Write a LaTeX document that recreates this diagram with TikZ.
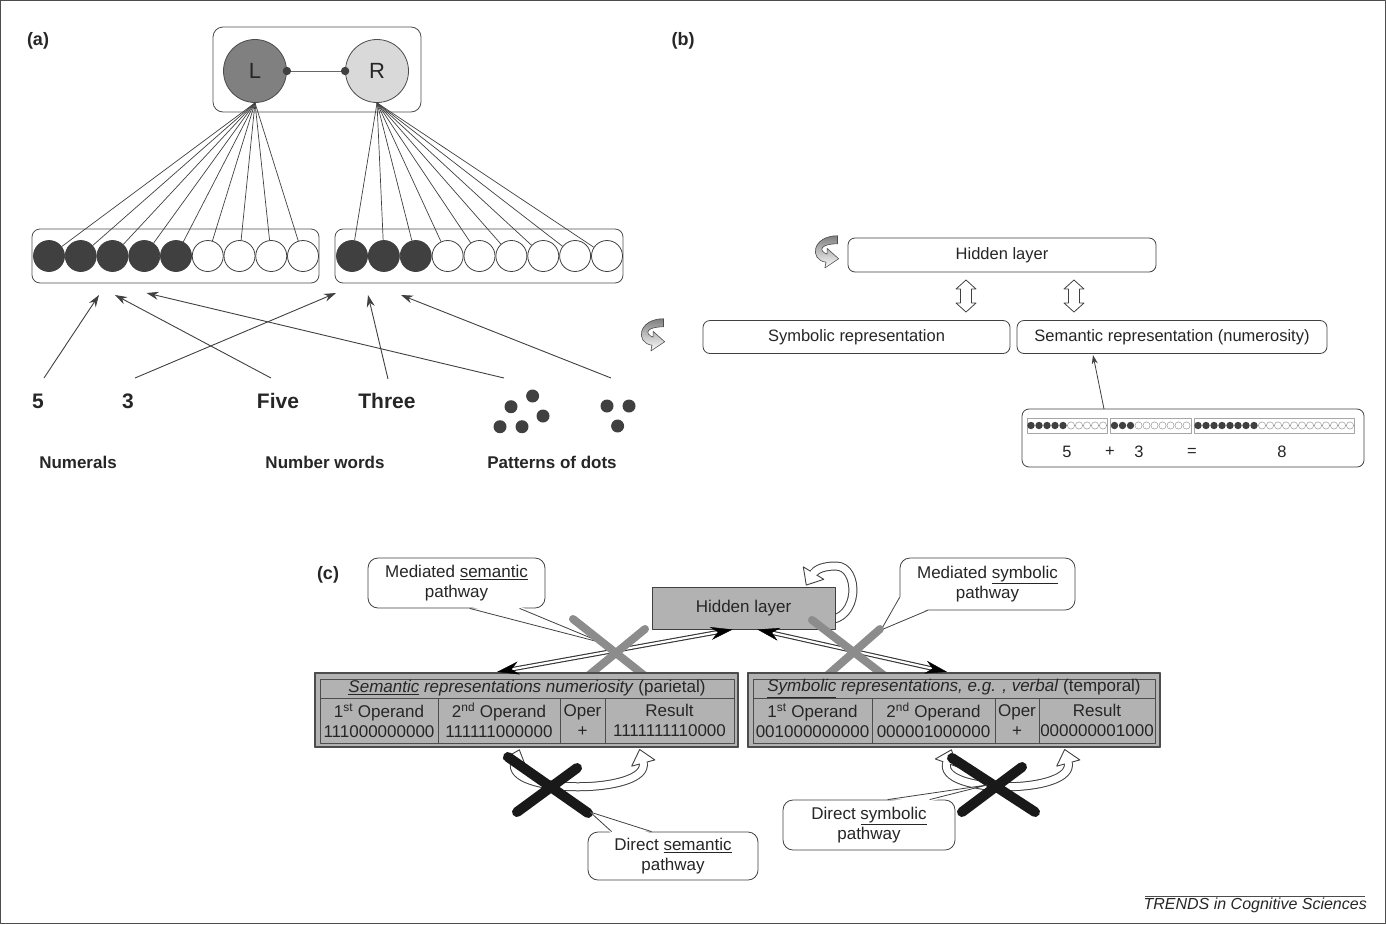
\documentclass[tikz,border=0pt]{standalone}
\usepackage{fontspec}
\setmainfont{Liberation Sans}
\usetikzlibrary{arrows.meta,decorations.markings,calc}

% open arrow heads for the banded (hollow) arrows
\newcommand\hhead{\draw[black!75, line width=0.9pt, fill=white] (-1,-12) -- (13,0) -- (-1,12) -- cycle; \fill[white] (-2.5,-3.4) rectangle (1,3.4);}
\newcommand\hheadback{\draw[black!75, line width=0.9pt, fill=white] (1,-12) -- (-13,0) -- (1,12) -- cycle; \fill[white] (2.5,-3.4) rectangle (-1,3.4);}
% banded arrow: dark outer stroke, white core, open heads
\newcommand\hollowpath[2]{\draw[black!75, line width=9pt] #2; \draw[white, line width=7pt, #1] #2;}
% speech-bubble tail: base points #1,#3, tip #2, #4 = shift into the bubble
\newcommand\calloutTail[4]{\fill[white] ($(#1)+(#4)$) -- (#2) -- ($(#3)+(#4)$) -- cycle; \draw[black!75, line width=0.8pt] (#1) -- (#2) -- (#3);}

\tikzset{
  paneltag/.style={font=\bfseries\fontsize{18}{21}\selectfont, inner sep=0pt, text=black!85},
  bigtxt/.style={font=\bfseries\fontsize{21}{25}\selectfont, inner sep=0pt, text=black!85},
  grouptxt/.style={font=\bfseries\fontsize{17}{20}\selectfont, inner sep=0pt, text=black!85},
  frameA/.style={draw=black!70, line width=0.8pt, rounded corners=8pt, inner sep=0pt},
  hemi/.style={circle, draw=black!70, line width=0.8pt, minimum size=63pt, inner sep=0pt, font=\fontsize{22}{26}\selectfont, text=black!85},
  unit/.style={circle, minimum size=31pt, inner sep=0pt, draw=black!75, line width=0.8pt},
  unitOn/.style={unit, fill=black!75},
  unitOff/.style={unit, fill=white},
  fan/.style={draw=black!75, line width=0.7pt},
  feed/.style={draw=black!75, line width=0.9pt, -{Stealth[length=12pt,width=8pt]}},
  rbox/.style={draw=black!75, rounded corners=7pt, line width=0.8pt, inner sep=0pt, fill=white, text=black!85, font=\fontsize{16.5}{19}\selectfont},
  bartxt/.style={font=\fontsize{16.5}{19}\selectfont, inner sep=0pt, text=black!85},
  dotOn/.style={fill=black!75},
  dotOff/.style={draw=black!40, fill=white, line width=0.5pt},
  bubble/.style={draw=black!75, fill=white, rounded corners=10pt, line width=0.8pt, align=center, inner sep=0pt, font=\fontsize{17}{20}\selectfont, text=black!85},
  grayhid/.style={draw=black!75, fill=black!30, line width=1pt, inner sep=0pt, font=\fontsize{17}{20}\selectfont, text=black!85},
  tabframe/.style={draw=black!70, fill=black!30, line width=2.2pt, inner sep=0pt},
  cellbox/.style={draw=black!70, line width=0.9pt, inner sep=0pt, align=center, font=\fontsize{17}{20}\selectfont, text=black!85},
  dblline/.style={draw=black!80, double=white, double distance=2.2pt, line width=1.1pt},
  dbltips/.style={color=black!80, decorate, decoration={markings,
      mark=at position 0 with {\arrowreversed{Stealth[length=22pt,width=13pt]}},
      mark=at position 1 with {\arrow{Stealth[length=22pt,width=13pt]}}}},
  headboth/.style={postaction={decorate, decoration={markings,
      mark=at position 0.0005 with {\hheadback}, mark=at position 0.9995 with {\hhead}}}},
  headend/.style={postaction={decorate, decoration={markings,
      mark=at position 0.9995 with {\hhead}}}},
  cross/.style={line width=8pt, draw=black!45, line cap=round},
  blackcross/.style={line width=10pt, draw=black!90, line cap=round},
  curl/.pic={\draw[black!70, line width=0.6pt, top color=black!50, bottom color=white, scale=1.15]
      (10,-15) .. controls (-12,-15) and (-15,6) .. (0,8) -- (-1,13) -- (11,5) -- (1,-4) -- (1,1)
      .. controls (-7,-2) and (-5,-8) .. (10,-8) -- cycle;},
  updown/.pic={\draw[black!75, line width=0.8pt, fill=white] (0,-16) -- (10,-7) -- (5.5,-7) -- (5.5,7) -- (10,7)
      -- (0,16) -- (-10,7) -- (-5.5,7) -- (-5.5,-7) -- (-10,-7) -- cycle;}
}

\begin{document}
\begin{tikzpicture}[x=1pt, y=-1pt, line join=round]
\useasboundingbox (0,0) rectangle (1386,924);
\draw[black!70, line width=0.8pt] (0.4,0.4) rectangle (1385.6,923.6);

%% ---------------- (a) two hemispheres and their number lines
\node[paneltag] (tagA) at (38,41) {(a)};
\node[frameA, minimum width=208pt, minimum height=85pt, rounded corners=10pt] (pair) at (317,69.5) {};
\node[hemi, fill=black!50] (L) at (255,71) {L};
\node[hemi, fill=black!15] (R) at (377,71) {R};
\draw[black!60, line width=0.9pt] (L.east) -- (R.west);
\fill[black!75] (L.east) circle (4.2pt) (R.west) circle (4.2pt);

\node[frameA, minimum width=287pt, minimum height=54pt] (bankL) at (175.5,256) {};
\node[frameA, minimum width=288pt, minimum height=54pt] (bankR) at (479,256) {};
\foreach \i in {0,...,4} \node[unitOn] (a\i) at ({49+31.75*\i},256) {};
\foreach \i in {5,...,8} \node[unitOff] (a\i) at ({49+31.75*\i},256) {};
\foreach \i in {0,1,2} \node[unitOn] (b\i) at ({352+31.875*\i},256) {};
\foreach \i in {3,...,8} \node[unitOff] (b\i) at ({352+31.875*\i},256) {};
\foreach \i in {0,...,8} {\draw[fan] (L.south) -- (a\i); \draw[fan] (R.south) -- (b\i);}

\node[bigtxt] (num5) at (38,401) {5};
\node[bigtxt] (num3) at (128,401) {3};
\node[bigtxt] (wFive) at (278,401) {Five};
\node[bigtxt] (wThree) at (387,401) {Three};
\foreach \p in {(532.6,396),(511,406.7),(543,416),(500,426.7),(522,426.7),(607,406),(629,406),(617.6,426)}
  \fill[black!75] \p circle (6.5pt);

\coordinate (t5) at (44,378);   \coordinate (h5) at (99,295);
\coordinate (t3) at (135,378);  \coordinate (h3) at (336,293);
\coordinate (tF) at (271,378);  \coordinate (hF) at (115,295);
\coordinate (tT) at (388,379);  \coordinate (hT) at (368,295);
\coordinate (tD5) at (504,378); \coordinate (hD5) at (146.5,293);
\coordinate (tD3) at (611,378); \coordinate (hD3) at (401,295);
\draw[feed] (t5) -- (h5);
\draw[feed] (t3) -- (h3);
\draw[feed] (tF) -- (hF);
\draw[feed] (tT) -- (hT);
\draw[feed] (tD5) -- (hD5);
\draw[feed] (tD3) -- (hD3);

\node[grouptxt] (gNum) at (78,462) {Numerals};
\node[grouptxt] (gWord) at (325,462) {Number words};
\node[grouptxt] (gDots) at (552,462) {Patterns of dots};

%% ---------------- (b) hidden layer model
\node[paneltag] (tagB) at (683,41) {(b)};
\node[rbox, minimum width=308pt, minimum height=34pt] (hid) at (1002,255) {Hidden layer};
\node[rbox, minimum width=307pt, minimum height=33pt] (sym) at (856.5,337) {Symbolic representation};
\node[rbox, minimum width=310pt, minimum height=33pt] (sem) at (1172,337) {Semantic representation (numerosity)};
\pic at (826,253) {curl};
\pic at (652,336) {curl};
\pic at (966,296) {updown};
\pic at (1074,296) {updown};

\node[rbox, minimum width=342pt, minimum height=58pt] (bar) at (1193,438) {};
\draw[black!35, line width=0.8pt, fill=white] (1027,418) rectangle (1107,433);
\draw[black!35, line width=0.8pt, fill=white] (1110,418) rectangle (1191,433);
\draw[black!35, line width=0.8pt, fill=white] (1194,418) rectangle (1354,433);
\foreach \k in {0,...,4} \fill[dotOn] ({1031+8*\k},425.5) circle (3.7pt);
\foreach \k in {5,...,9} \draw[dotOff] ({1031+8*\k},425.5) circle (3.6pt);
\foreach \k in {0,1,2} \fill[dotOn] ({1114.5+8*\k},425.5) circle (3.7pt);
\foreach \k in {3,...,9} \draw[dotOff] ({1114.5+8*\k},425.5) circle (3.6pt);
\foreach \k in {0,...,7} \fill[dotOn] ({1198+8*\k},425.5) circle (3.7pt);
\foreach \k in {8,...,19} \draw[dotOff] ({1198+8*\k},425.5) circle (3.6pt);
\node[bartxt] (e5) at (1067,452) {5};
\node[bartxt] (ePlus) at (1110,452) {+};
\node[bartxt] (e3) at (1139,452) {3};
\node[bartxt] (eEq) at (1192,452) {=};
\node[bartxt] (e8) at (1282,452) {8};
\coordinate (barTop) at (1104,409);
\coordinate (semIn) at (1093,355);
\draw[black!75, line width=0.8pt, -{Stealth[length=9pt,width=6pt]}] (barTop) -- (semIn);

%% ---------------- (c) pathways between the representations
\node[paneltag] (tagC) at (328,575) {(c)};
\hollowpath{headend}{(826,620) .. controls (860,621) and (860,566) .. (836,566) .. controls (824,566) and (816,569) .. (813,574)}
\node[grayhid, minimum width=183pt, minimum height=42pt] (hidc) at (743.5,608) {Hidden layer};

% left and right tables
\node[tabframe, minimum width=423pt, minimum height=74pt] (tabL) at (526.5,710) {};
\node[tabframe, minimum width=412pt, minimum height=74pt] (tabR) at (954,710) {};

% bidirectional double-line arrows
\coordinate (hL) at ($(hidc.south)+(-11,0)$);
\coordinate (tL) at ($(tabL.north)+(-29.5,0)$);
\coordinate (hR) at ($(hidc.south)+(14,0)$);
\coordinate (tR) at ($(tabR.north)+(-7,0)$);
\draw[dblline, shorten <=12pt, shorten >=12pt] (hL) -- (tL);
\draw[dblline, shorten <=12pt, shorten >=12pt] (hR) -- (tR);

% mediated pathway callouts
\node[bubble, minimum width=177pt, minimum height=50pt] (cMsem) at (456.5,583) {Mediated \underline{semantic}\\pathway};
\coordinate (mA) at ($(cMsem.south west)+(102,0)$);
\coordinate (mB) at ($(cMsem.south west)+(152,0)$);
\coordinate (mTip) at (603,643);
\calloutTail{mA}{mTip}{mB}{0,-2}

\node[bubble, minimum width=175pt, minimum height=52pt] (cMsym) at (987.5,584) {Mediated \underline{symbolic}\\pathway};
\coordinate (sA) at ($(cMsym.south west)+(0,-13)$);
\coordinate (sB) at ($(cMsym.south west)+(28,0)$);
\coordinate (sTip) at (881,630);
\calloutTail{sA}{sTip}{sB}{2,-2}

% gray crosses over the mediated routes
\draw[cross] (573,619) -- (650,680) (645,629) -- (583,680);
\draw[cross] (812,620) -- (890,680) (880,629) -- (822,680);

% tables (drawn over the cross ends), then the arrow heads
\node[tabframe, minimum width=423pt, minimum height=74pt] at (tabL) {};
\node[tabframe, minimum width=412pt, minimum height=74pt] at (tabR) {};
\path[dbltips] (hL) -- (tL);
\path[dbltips] (hR) -- (tR);

\node[cellbox, minimum width=414pt, minimum height=19pt] (tLh) at (527,688.5)
  {\textit{\underline{Semantic} representations numeriosity} (parietal)};
\node[cellbox, minimum width=118pt, minimum height=45pt] (tL1) at (379,720.5) {1\textsuperscript{st} Operand\\111000000000};
\node[cellbox, minimum width=122pt, minimum height=45pt] (tL2) at (499,720.5) {2\textsuperscript{nd} Operand\\111111000000};
\node[cellbox, minimum width=45pt, minimum height=45pt] (tL3) at (582.5,720.5) {Oper\\+};
\node[cellbox, minimum width=129pt, minimum height=45pt] (tL4) at (669.5,720.5) {Result\\1111111110000};

\node[cellbox, minimum width=402pt, minimum height=19pt] (tRh) at (954,688.5)
  {\textit{\underline{Symbolic} representations, e.g. , verbal} (temporal)};
\node[cellbox, minimum width=119pt, minimum height=45pt] (tR1) at (812.5,720.5) {1\textsuperscript{st} Operand\\001000000000};
\node[cellbox, minimum width=123pt, minimum height=45pt] (tR2) at (933.5,720.5) {2\textsuperscript{nd} Operand\\000001000000};
\node[cellbox, minimum width=44pt, minimum height=45pt] (tR3) at (1017,720.5) {Oper\\+};
\node[cellbox, minimum width=116pt, minimum height=45pt] (tR4) at (1097,720.5) {Result\\000000001000};

% direct pathways: loops under each table, crossed out
\hollowpath{headboth}{(515,762) .. controls (503,795) and (652,795) .. (643,762)}
\hollowpath{headboth}{(947,762) .. controls (935,795) and (1077,795) .. (1068,762)}
\draw[blackcross] (508,757) -- (588,813) (577,768) -- (517,812);
\draw[blackcross] (952,758) -- (1035,812) (1022,767) -- (962,812);

\node[bubble, minimum width=170pt, minimum height=48pt] (cDsem) at (673,856) {Direct \underline{semantic}\\pathway};
\coordinate (dA) at ($(cDsem.north west)+(24,0)$);
\coordinate (dB) at ($(cDsem.north west)+(64,0)$);
\coordinate (dTip) at (590,812);
\calloutTail{dA}{dTip}{dB}{0,2}

\node[bubble, minimum width=172pt, minimum height=50pt] (cDsym) at (869,825) {Direct \underline{symbolic}\\pathway};
\coordinate (yA) at ($(cDsym.north west)+(105,0)$);
\coordinate (yB) at ($(cDsym.north west)+(147,0)$);
\coordinate (yTip) at (987,785);
\calloutTail{yA}{yTip}{yB}{0,2}

%% ---------------- credit line
\draw[black!70, line width=0.6pt] (1145,896) -- (1365,896);
\node[font=\itshape\fontsize{16}{19}\selectfont, inner sep=0pt, anchor=east, text=black!85] (credit) at (1367,905) {TRENDS in Cognitive Sciences};
\end{tikzpicture}
\end{document}
